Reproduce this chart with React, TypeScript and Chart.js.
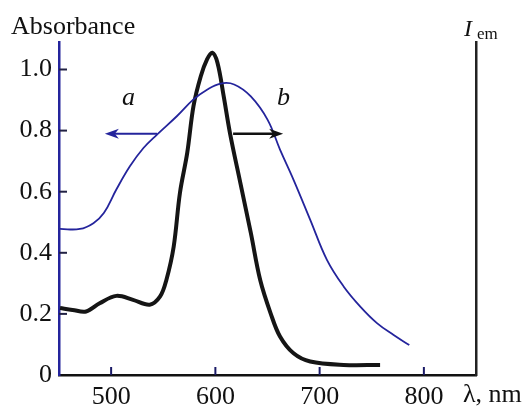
import React, { useEffect, useRef } from "react";
import { Chart, registerables } from "chart.js";

Chart.register(...registerables);

const xTicks = [500, 600, 700, 800];
const yTicks = [0, 0.2, 0.4, 0.6, 0.8, 1.0];

const absWavelength = [451, 470, 483, 493, 505, 518, 531, 544, 563, 579, 592, 605, 618, 634, 650, 662, 675, 691, 707, 723, 739, 755, 771, 786];
const absValues = [0.478, 0.478, 0.497, 0.53, 0.607, 0.683, 0.743, 0.787, 0.847, 0.902, 0.934, 0.954, 0.951, 0.912, 0.836, 0.738, 0.639, 0.508, 0.377, 0.29, 0.224, 0.17, 0.131, 0.098];

const emWavelength = [451, 463, 476, 489, 505, 521, 537, 547, 553, 560, 566, 573, 579, 586, 592, 597, 602, 608, 614, 624, 634, 643, 653, 662, 675, 691, 723, 758];
const emValues = [0.219, 0.213, 0.208, 0.235, 0.259, 0.246, 0.23, 0.257, 0.311, 0.42, 0.596, 0.727, 0.88, 0.978, 1.033, 1.055, 1.022, 0.912, 0.792, 0.628, 0.465, 0.311, 0.202, 0.126, 0.071, 0.044, 0.033, 0.033];

const arrowA = { from: 544, to: 494, y: 0.79 };
const arrowB = { from: 617, to: 665, y: 0.79 };

const BLUE = "#24249c";
const SERIF = "'Liberation Serif', 'Times New Roman', serif";

const decorPlugin = {
  id: "decor",
  afterDraw(chart: any) {
    const { ctx, scales, chartArea } = chart;
    const xs = scales.x;
    const ys = scales.y;
    ctx.save();
    // inward ticks
    ctx.lineWidth = 2;
    ctx.strokeStyle = "#1a1a66";
    xTicks.forEach((v) => {
      const px = xs.getPixelForValue(v);
      ctx.beginPath();
      ctx.moveTo(px, chartArea.bottom);
      ctx.lineTo(px, chartArea.bottom - 8);
      ctx.stroke();
    });
    ctx.strokeStyle = "#222244";
    yTicks.forEach((v) => {
      if (v === 0) return;
      const py = ys.getPixelForValue(v);
      ctx.beginPath();
      ctx.moveTo(chartArea.left, py);
      ctx.lineTo(chartArea.left + 8, py);
      ctx.stroke();
    });

    // arrows
    const drawArrow = (a: any, color: string, w: number) => {
      const x1 = xs.getPixelForValue(a.from);
      const x2 = xs.getPixelForValue(a.to);
      const y = ys.getPixelForValue(a.y);
      const dir = x2 > x1 ? 1 : -1;
      ctx.strokeStyle = color;
      ctx.fillStyle = color;
      ctx.lineWidth = w;
      ctx.beginPath();
      ctx.moveTo(x1, y);
      ctx.lineTo(x2 - dir * 8, y);
      ctx.stroke();
      ctx.beginPath();
      ctx.moveTo(x2, y);
      ctx.lineTo(x2 - dir * 14, y - 5);
      ctx.lineTo(x2 - dir * 10, y);
      ctx.lineTo(x2 - dir * 14, y + 5);
      ctx.closePath();
      ctx.fill();
    };
    drawArrow(arrowA, BLUE, 2);
    drawArrow(arrowB, "#111", 2.5);

    // texts
    ctx.fillStyle = "#111";
    ctx.textBaseline = "alphabetic";
    ctx.textAlign = "left";
    ctx.font = `26px ${SERIF}`;
    ctx.fillText("Absorbance", 11, 34);
    ctx.fillText("\u03bb, nm", 463, 402);
    ctx.font = `italic 26px ${SERIF}`;
    ctx.fillText("a", 122, 105);
    ctx.fillText("b", 277, 105);
    ctx.font = `italic 24px ${SERIF}`;
    ctx.fillText("I", 464, 36);
    ctx.font = `17px ${SERIF}`;
    ctx.fillText("em", 477, 39);
    ctx.restore();
  },
};

export default function App() {
  const ref = useRef<HTMLCanvasElement>(null);
  useEffect(() => {
    if (!ref.current) return;
    const chart = new Chart(ref.current, {
      type: "line",
      data: {
        datasets: [
          {
            label: "a",
            data: absWavelength.map((x, i) => ({ x, y: absValues[i] })),
            borderColor: BLUE,
            borderWidth: 1.8,
            pointRadius: 0,
            tension: 0.4,
            yAxisID: "y",
          },
          {
            label: "b",
            data: emWavelength.map((x, i) => ({ x, y: emValues[i] })),
            borderColor: "#151515",
            borderWidth: 4,
            pointRadius: 0,
            tension: 0.35,
            yAxisID: "y2",
          },
        ],
      },
      options: {
        animation: false,
        responsive: false,
        maintainAspectRatio: false,
        layout: { padding: { top: 42, left: 0, right: 0, bottom: 0 } },
        plugins: { legend: { display: false }, tooltip: { enabled: false } },
        scales: {
          x: {
            type: "linear",
            min: 450,
            max: 850,
            afterBuildTicks: (s: any) => {
              s.ticks = xTicks.map((value) => ({ value }));
            },
            afterFit: (s: any) => {
              s.height = 35;
            },
            grid: { display: false, drawTicks: false },
            border: { display: true, color: "#111", width: 2.5 },
            ticks: {
              padding: 7,
              color: "#111",
              font: { family: SERIF, size: 26 },
              maxRotation: 0,
              callback: (v: any) => String(v),
            },
          },
          y: {
            type: "linear",
            position: "left",
            min: 0,
            max: 1.09,
            afterBuildTicks: (s: any) => {
              s.ticks = yTicks.map((value) => ({ value }));
            },
            afterFit: (s: any) => {
              s.width = 59;
            },
            grid: { display: false, drawTicks: false },
            border: { display: true, color: BLUE, width: 2.5 },
            ticks: {
              padding: 7,
              color: "#111",
              font: { family: SERIF, size: 26 },
              callback: (v: any) => (v === 0 ? "0" : Number(v).toFixed(1)),
            },
          },
          y2: {
            type: "linear",
            position: "right",
            min: 0,
            max: 1.09,
            afterFit: (s: any) => {
              s.width = 51;
            },
            grid: { display: false, drawTicks: false },
            border: { display: true, color: "#222", width: 2.5 },
            ticks: { display: false },
          },
        },
      },
      plugins: [decorPlugin],
    } as any);
    return () => chart.destroy();
  }, []);
  return (
    <div style={{ position: "fixed", left: 0, top: 0, width: 527, height: 410, background: "#fff" }}>
      <canvas ref={ref} width={527} height={410} style={{ width: 527, height: 410 }} />
    </div>
  );
}
